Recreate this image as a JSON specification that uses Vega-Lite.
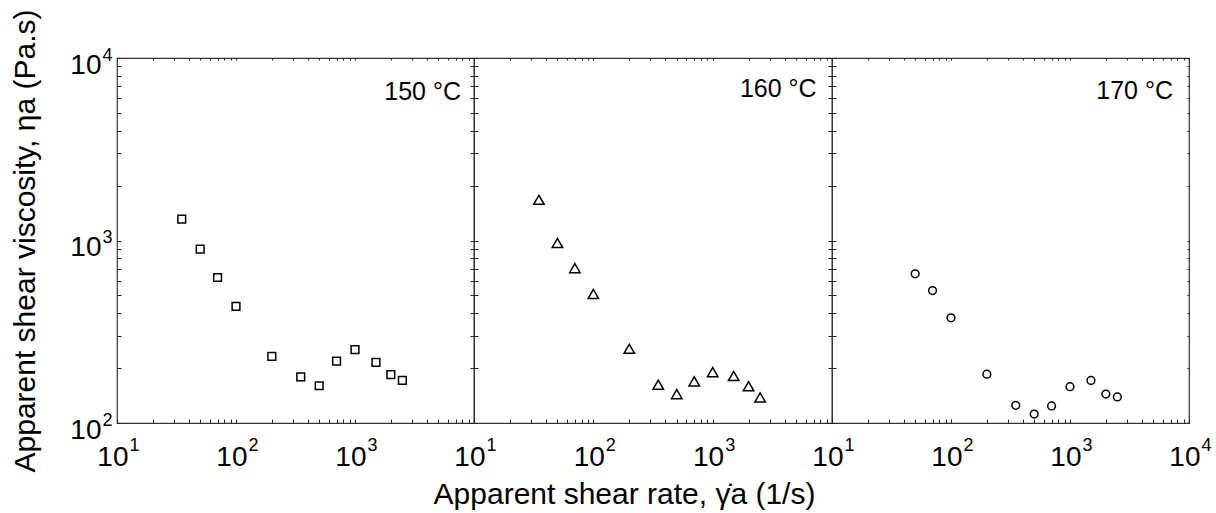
{
  "$schema": "https://vega.github.io/schema/vega-lite/v6.json",
  "padding": {"left": 10, "top": 8, "right": 5, "bottom": 5},
  "spacing": 0,
  "bounds": "flush",
  "datasets": {
    "pts": [
      {"temp": 150, "rate": 35, "visc": 1309},
      {"temp": 150, "rate": 50, "visc": 898},
      {"temp": 150, "rate": 70, "visc": 627},
      {"temp": 150, "rate": 100, "visc": 435},
      {"temp": 150, "rate": 200, "visc": 232},
      {"temp": 150, "rate": 350, "visc": 179},
      {"temp": 150, "rate": 500, "visc": 160},
      {"temp": 150, "rate": 700, "visc": 218},
      {"temp": 150, "rate": 1000, "visc": 252},
      {"temp": 150, "rate": 1500, "visc": 215},
      {"temp": 150, "rate": 2000, "visc": 184},
      {"temp": 150, "rate": 2500, "visc": 171},
      {"temp": 160, "rate": 35, "visc": 1671},
      {"temp": 160, "rate": 50, "visc": 968},
      {"temp": 160, "rate": 70, "visc": 706},
      {"temp": 160, "rate": 100, "visc": 509},
      {"temp": 160, "rate": 200, "visc": 255},
      {"temp": 160, "rate": 350, "visc": 162},
      {"temp": 160, "rate": 500, "visc": 144},
      {"temp": 160, "rate": 700, "visc": 169},
      {"temp": 160, "rate": 1000, "visc": 190},
      {"temp": 160, "rate": 1500, "visc": 181},
      {"temp": 160, "rate": 2000, "visc": 159},
      {"temp": 160, "rate": 2500, "visc": 138},
      {"temp": 170, "rate": 50, "visc": 657},
      {"temp": 170, "rate": 70, "visc": 532},
      {"temp": 170, "rate": 100, "visc": 377},
      {"temp": 170, "rate": 200, "visc": 185},
      {"temp": 170, "rate": 350, "visc": 125},
      {"temp": 170, "rate": 500, "visc": 112},
      {"temp": 170, "rate": 700, "visc": 124},
      {"temp": 170, "rate": 1000, "visc": 158},
      {"temp": 170, "rate": 1500, "visc": 171},
      {"temp": 170, "rate": 2000, "visc": 144},
      {"temp": 170, "rate": 2500, "visc": 139}
    ]
  },
  "hconcat": [
    {
      "width": 357, "height": 365,
      "resolve": {"axis": {"x": "independent", "y": "independent"}},
      "layer": [
        {
          "data": {"name": "pts"},
          "transform": [{"filter": "datum.temp == 150"}],
          "mark": {"type": "point", "shape": "square", "filled": false, "stroke": "black", "strokeWidth": 1.5, "size": 60, "opacity": 1},
          "encoding": {
            "x": {"field": "rate", "type": "quantitative", "scale": {"type": "log", "domain": [10, 10000], "nice": false},
              "axis": {"orient": "bottom", "title": null, "labels": false, "tickSize": 4, "offset": -4, "values": [10,20,30,40,50,60,70,80,90,100,200,300,400,500,600,700,800,900,1000,2000,3000,4000,5000,6000,7000,8000,9000,10000]}},
            "y": {"field": "visc", "type": "quantitative", "scale": {"type": "log", "domain": [100, 10000], "nice": false},
              "axis": {"orient": "left", "title": null, "labels": false, "tickSize": 4, "offset": -4, "values": [100,200,300,400,500,600,700,800,900,1000,2000,3000,4000,5000,6000,7000,8000,9000,10000]}}
          }
        },
        {
          "data": {"values": [{"label": "150 °C"}]},
          "mark": {"type": "text", "align": "right", "baseline": "alphabetic", "fontSize": 25, "font": "Liberation Sans", "color": "black"},
          "encoding": {
            "text": {"field": "label"},
            "x": {"datum": 7780, "type": "quantitative", "axis": {"orient": "top", "title": null, "labels": false, "tickSize": 2, "offset": -2, "values": [10,20,30,40,50,60,70,80,90,100,200,300,400,500,600,700,800,900,1000,2000,3000,4000,5000,6000,7000,8000,9000,10000]}},
            "y": {"datum": 5900, "type": "quantitative", "axis": {"orient": "right", "title": null, "labels": false, "tickSize": 4, "offset": -4, "values": [100,200,300,400,500,600,700,800,900,1000,2000,3000,4000,5000,6000,7000,8000,9000,10000]}}
          }
        },
        {
          "data": {"values": []},
          "mark": {"type": "text"},
          "encoding": {
            "x": {"datum": 100, "type": "quantitative", "axis": {"orient": "bottom", "title": null, "ticks": false, "tickSize": 0, "values": [10, 100, 1000], "labelExpr": "'10'", "labelFontSize": 28, "labelAlign": "right", "labelOffset": 11, "labelPadding": 20}},
            "y": {"datum": 1000, "type": "quantitative", "axis": {"orient": "left", "title": "Apparent shear viscosity, ηa (Pa.s)", "titlePadding": 29, "ticks": false, "tickSize": 0, "values": [100, 1000, 10000], "labelExpr": "'10'", "labelFontSize": 28, "labelBaseline": "alphabetic", "labelOffset": 15, "labelPadding": 16}}
          }
        },
        {
          "data": {"values": []},
          "mark": {"type": "text"},
          "encoding": {
            "x": {"datum": 100, "type": "quantitative", "axis": {"orient": "bottom", "title": null, "ticks": false, "tickSize": 0, "values": [10, 100, 1000], "labelExpr": "datum.value == 10 ? '1' : datum.value == 100 ? '2' : '3'", "labelFontSize": 18, "labelAlign": "left", "labelOffset": 12, "labelPadding": 13}},
            "y": {"datum": 1000, "type": "quantitative", "axis": {"orient": "left", "title": null, "ticks": false, "tickSize": 0, "values": [100, 1000, 10000], "labelExpr": "datum.value == 100 ? '2' : datum.value == 1000 ? '3' : '4'", "labelFontSize": 18, "labelBaseline": "alphabetic", "labelOffset": 2, "labelPadding": 5}}
          }
        }
      ]
    },
    {
      "width": 358, "height": 365,
      "resolve": {"axis": {"x": "independent", "y": "independent"}},
      "layer": [
        {
          "data": {"name": "pts"},
          "transform": [{"filter": "datum.temp == 160"}],
          "mark": {"type": "point", "shape": "triangle-up", "filled": false, "stroke": "black", "strokeWidth": 1.5, "size": 110, "opacity": 1},
          "encoding": {
            "x": {"field": "rate", "type": "quantitative", "scale": {"type": "log", "domain": [10, 10000], "nice": false},
              "axis": {"orient": "bottom", "title": null, "labels": false, "tickSize": 4, "offset": -4, "values": [10,20,30,40,50,60,70,80,90,100,200,300,400,500,600,700,800,900,1000,2000,3000,4000,5000,6000,7000,8000,9000,10000]}},
            "y": {"field": "visc", "type": "quantitative", "scale": {"type": "log", "domain": [100, 10000], "nice": false},
              "axis": {"orient": "left", "title": null, "labels": false, "tickSize": 4, "offset": -4, "values": [100,200,300,400,500,600,700,800,900,1000,2000,3000,4000,5000,6000,7000,8000,9000,10000]}}
          }
        },
        {
          "data": {"values": [{"label": "160 °C"}]},
          "mark": {"type": "text", "align": "right", "baseline": "alphabetic", "fontSize": 25, "font": "Liberation Sans", "color": "black"},
          "encoding": {
            "text": {"field": "label"},
            "x": {"datum": 7430, "type": "quantitative", "axis": {"orient": "top", "title": null, "labels": false, "tickSize": 2, "offset": -2, "values": [10,20,30,40,50,60,70,80,90,100,200,300,400,500,600,700,800,900,1000,2000,3000,4000,5000,6000,7000,8000,9000,10000]}},
            "y": {"datum": 6100, "type": "quantitative", "axis": {"orient": "right", "title": null, "labels": false, "tickSize": 4, "offset": -4, "values": [100,200,300,400,500,600,700,800,900,1000,2000,3000,4000,5000,6000,7000,8000,9000,10000]}}
          }
        },
        {
          "data": {"values": []},
          "mark": {"type": "text"},
          "encoding": {
            "x": {"datum": 100, "type": "quantitative", "axis": {"orient": "bottom", "title": "Apparent shear rate, γ̇a (1/s)", "titlePadding": 8, "titleX": 150, "ticks": false, "tickSize": 0, "values": [10, 100, 1000], "labelExpr": "'10'", "labelFontSize": 28, "labelAlign": "right", "labelOffset": 11, "labelPadding": 20}},
            "y": {"datum": 1000, "type": "quantitative", "axis": null}
          }
        },
        {
          "data": {"values": []},
          "mark": {"type": "text"},
          "encoding": {
            "x": {"datum": 100, "type": "quantitative", "axis": {"orient": "bottom", "title": null, "ticks": false, "tickSize": 0, "values": [10, 100, 1000], "labelExpr": "datum.value == 10 ? '1' : datum.value == 100 ? '2' : '3'", "labelFontSize": 18, "labelAlign": "left", "labelOffset": 12, "labelPadding": 13}},
            "y": {"datum": 1000, "type": "quantitative", "axis": null}
          }
        }
      ]
    },
    {
      "width": 357, "height": 365,
      "resolve": {"axis": {"x": "independent", "y": "independent"}},
      "layer": [
        {
          "data": {"name": "pts"},
          "transform": [{"filter": "datum.temp == 170"}],
          "mark": {"type": "point", "shape": "circle", "filled": false, "stroke": "black", "strokeWidth": 1.5, "size": 60, "opacity": 1},
          "encoding": {
            "x": {"field": "rate", "type": "quantitative", "scale": {"type": "log", "domain": [10, 10000], "nice": false},
              "axis": {"orient": "bottom", "title": null, "labels": false, "tickSize": 4, "offset": -4, "values": [10,20,30,40,50,60,70,80,90,100,200,300,400,500,600,700,800,900,1000,2000,3000,4000,5000,6000,7000,8000,9000,10000]}},
            "y": {"field": "visc", "type": "quantitative", "scale": {"type": "log", "domain": [100, 10000], "nice": false},
              "axis": {"orient": "left", "title": null, "labels": false, "tickSize": 4, "offset": -4, "values": [100,200,300,400,500,600,700,800,900,1000,2000,3000,4000,5000,6000,7000,8000,9000,10000]}}
          }
        },
        {
          "data": {"values": [{"label": "170 °C"}]},
          "mark": {"type": "text", "align": "right", "baseline": "alphabetic", "fontSize": 25, "font": "Liberation Sans", "color": "black"},
          "encoding": {
            "text": {"field": "label"},
            "x": {"datum": 7340, "type": "quantitative", "axis": {"orient": "top", "title": null, "labels": false, "tickSize": 2, "offset": -2, "values": [10,20,30,40,50,60,70,80,90,100,200,300,400,500,600,700,800,900,1000,2000,3000,4000,5000,6000,7000,8000,9000,10000]}},
            "y": {"datum": 5950, "type": "quantitative", "axis": {"orient": "right", "title": null, "labels": false, "tickSize": 2, "offset": -2, "values": [100,200,300,400,500,600,700,800,900,1000,2000,3000,4000,5000,6000,7000,8000,9000,10000]}}
          }
        },
        {
          "data": {"values": []},
          "mark": {"type": "text"},
          "encoding": {
            "x": {"datum": 100, "type": "quantitative", "axis": {"orient": "bottom", "title": null, "ticks": false, "tickSize": 0, "values": [10, 100, 1000, 10000], "labelExpr": "'10'", "labelFontSize": 28, "labelAlign": "right", "labelOffset": 11, "labelPadding": 20}},
            "y": {"datum": 1000, "type": "quantitative", "axis": null}
          }
        },
        {
          "data": {"values": []},
          "mark": {"type": "text"},
          "encoding": {
            "x": {"datum": 100, "type": "quantitative", "axis": {"orient": "bottom", "title": null, "ticks": false, "tickSize": 0, "values": [10, 100, 1000, 10000], "labelExpr": "datum.value == 10 ? '1' : datum.value == 100 ? '2' : datum.value == 1000 ? '3' : '4'", "labelFontSize": 18, "labelAlign": "left", "labelOffset": 12, "labelPadding": 13}},
            "y": {"datum": 1000, "type": "quantitative", "axis": null}
          }
        }
      ]
    }
  ],
  "config": {
    "view": {"stroke": "#333333", "strokeWidth": 1.2},
    "axis": {
      "domain": false, "grid": false, "tickColor": "#222222", "tickWidth": 1,
      "labelFont": "Liberation Sans", "labelColor": "black", "labelOverlap": false, "labelFlush": false, "labelBound": false,
      "titleFont": "Liberation Sans", "titleFontSize": 30, "titleFontWeight": "normal", "titleColor": "black"
    }
  }
}
